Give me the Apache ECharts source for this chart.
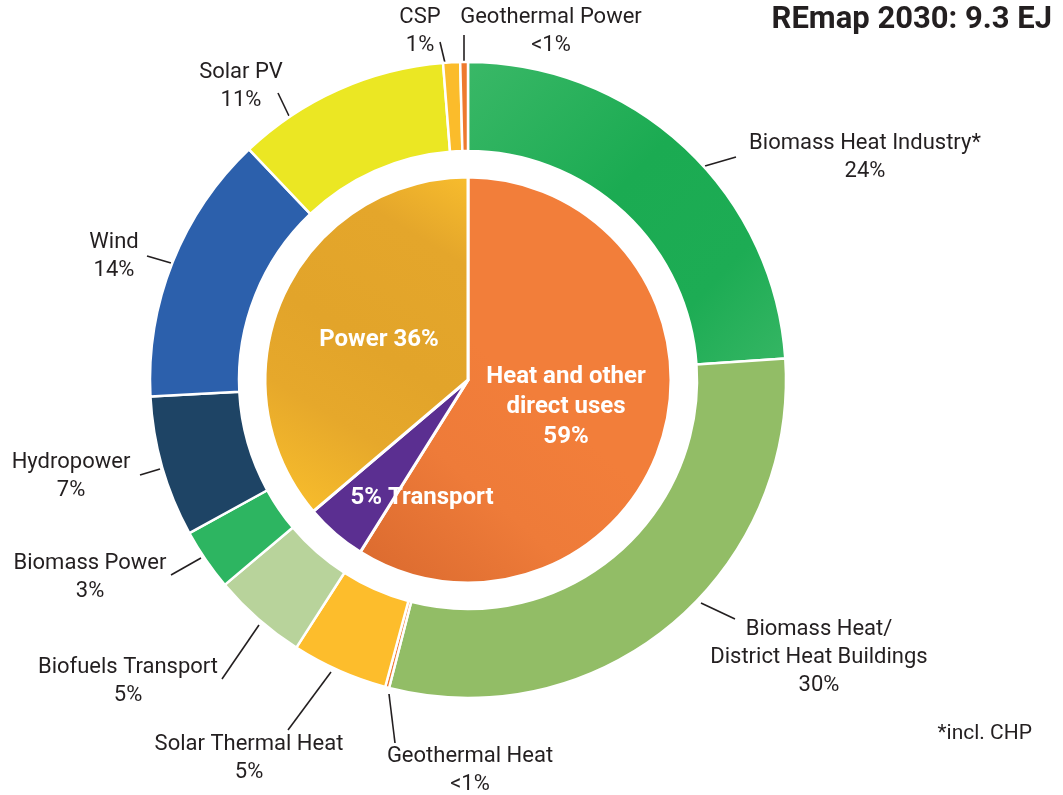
<!DOCTYPE html>
<html>
<head>
<meta charset="utf-8">
<script src="https://cdn.jsdelivr.net/npm/echarts@6/dist/echarts.min.js"></script>
<style>
html,body{margin:0;padding:0;background:#fff;}
#chart{width:1063px;height:795px;}
</style>
</head>
<body>
<div id="chart"></div>
<script>
// ---- Data ----
const outerNames = ['Biomass Heat Industry*', 'Biomass Heat/\nDistrict Heat Buildings', 'Geothermal Heat', 'Solar Thermal Heat', 'Biofuels Transport', 'Biomass Power', 'Hydropower', 'Wind', 'Solar PV', 'CSP', 'Geothermal Power'];
const outerValues = [23.9, 30.05, 0.2, 4.88, 4.78, 3.14, 7.17, 13.72, 10.83, 0.86, 0.39];
const outerPctLabels = ['24%', '30%', '<1%', '5%', '5%', '3%', '7%', '14%', '11%', '1%', '<1%'];

const innerNames = ['Heat and other\ndirect uses', 'Transport', 'Power'];
const innerValues = [58.9, 4.9, 36.2];
const innerPctLabels = ['59%', '5%', '36%'];

const titleText = 'REmap 2030: 9.3 EJ';
const noteText = '*incl. CHP';

// ---- Styles / layout ----
const CX = 468, CY = 380;
const outerColors = [
  {type:'linear', x:0, y:0, x2:1, y2:1, colorStops:[{offset:0,color:'#3AB867'},{offset:0.45,color:'#1BAB52'},{offset:0.75,color:'#1DAC54'},{offset:1,color:'#36B664'}]},
  '#92BD66', '#EE7A2E', '#FDBD2C', '#B8D39B', '#2DB561', '#1E4465', '#2C60AC', '#EBE723', '#FBBC2B', '#EE7A2E'
];
const innerColors = [
  {type:'linear', x:0, y:1, x2:0.9, y2:0.2, colorStops:[{offset:0,color:'#D9692E'},{offset:0.35,color:'#EE7B39'},{offset:0.6,color:'#F27E3A'},{offset:1,color:'#F27E3A'}]},
  '#5B2F91',
  {type:'linear', x:0, y:1, x2:1, y2:0, colorStops:[{offset:0,color:'#FBC12C'},{offset:0.3,color:'#E6A82B'},{offset:0.5,color:'#E2A42A'},{offset:0.8,color:'#E4A62B'},{offset:1,color:'#F8BD2D'}]}
];
// label centres and leader lines (layout only)
const outerLabelPos = [[865,157],[819,657],[470,770],[249,758],[128,681],[90,577],[71,476],[114,256],[241,86],[420,31],[551,31]];
const outerLeaderLines = [
  [[705,166],[736,157]],
  [[701,603],[735,619]],
  [[389,694],[395,743]],
  [[331,672],[288,730]],
  [[259,625],[222,679]],
  [[201,558],[171,575]],
  [[160,469],[140,475]],
  [[171,263],[147,256]],
  [[289,116],[278,93]],
  [[445,63],[440,42]],
  [[464,61],[464,35]]
];
const innerLabelPos = [[566,407],[422,498],[379,340]];

const chart = echarts.init(document.getElementById('chart'), null, {renderer:'canvas'});

const outerData = outerNames.map((n,i)=>({name:n, value:outerValues[i], itemStyle:{color:outerColors[i]}}));
const innerData = innerNames.map((n,i)=>({name:n, value:innerValues[i], itemStyle:{color:innerColors[i]}}));

const option = {
  backgroundColor:'#ffffff',
  animation:false,
  title:[
    {text:titleText, right:6, top:0, textStyle:{fontFamily:'Roboto', fontWeight:'bold', fontSize:31, color:'#231F20'}},
    {text:noteText, right:26, top:718, textStyle:{fontFamily:'Roboto', fontWeight:'normal', fontSize:21, color:'#231F20'}}
  ],
  series:[
    {
      type:'pie',
      center:[CX, CY],
      radius:[229, 318],
      startAngle:90,
      clockwise:true,
      avoidLabelOverlap:false,
      emphasis:{disabled:true},
      itemStyle:{borderColor:'#ffffff', borderWidth:2.5},
      label:{
        show:true, position:'outside',
        fontFamily:'Roboto', fontSize:22, lineHeight:28, color:'#231F20',
        formatter:(p)=> p.name + '\n' + outerPctLabels[p.dataIndex]
      },
      labelLine:{show:true, length:5, length2:5, lineStyle:{color:'#231F20', width:1.6}},
      labelLayout:(p)=>({
        x: outerLabelPos[p.dataIndex][0],
        y: outerLabelPos[p.dataIndex][1],
        align:'center', verticalAlign:'middle',
        labelLinePoints: outerLeaderLines[p.dataIndex]
      }),
      data: outerData
    },
    {
      type:'pie',
      center:[CX, CY],
      radius:[0, 203],
      startAngle:90,
      clockwise:true,
      avoidLabelOverlap:false,
      emphasis:{disabled:true},
      itemStyle:{borderColor:'#ffffff', borderWidth:3},
      label:{
        show:true, position:'inside',
        fontFamily:'Roboto', fontWeight:'bold', fontSize:24, lineHeight:30, color:'#ffffff',
        formatter:(p)=>{
          const i = p.dataIndex;
          if (i === 0) return p.name + '\n' + innerPctLabels[i];
          if (i === 1) return innerPctLabels[i] + ' ' + p.name;
          return p.name + ' ' + innerPctLabels[i];
        }
      },
      labelLine:{show:false},
      labelLayout:(p)=>({
        x: innerLabelPos[p.dataIndex][0],
        y: innerLabelPos[p.dataIndex][1],
        align:'center', verticalAlign:'middle'
      }),
      data: innerData
    }
  ]
};
chart.setOption(option);
</script>
</body>
</html>
